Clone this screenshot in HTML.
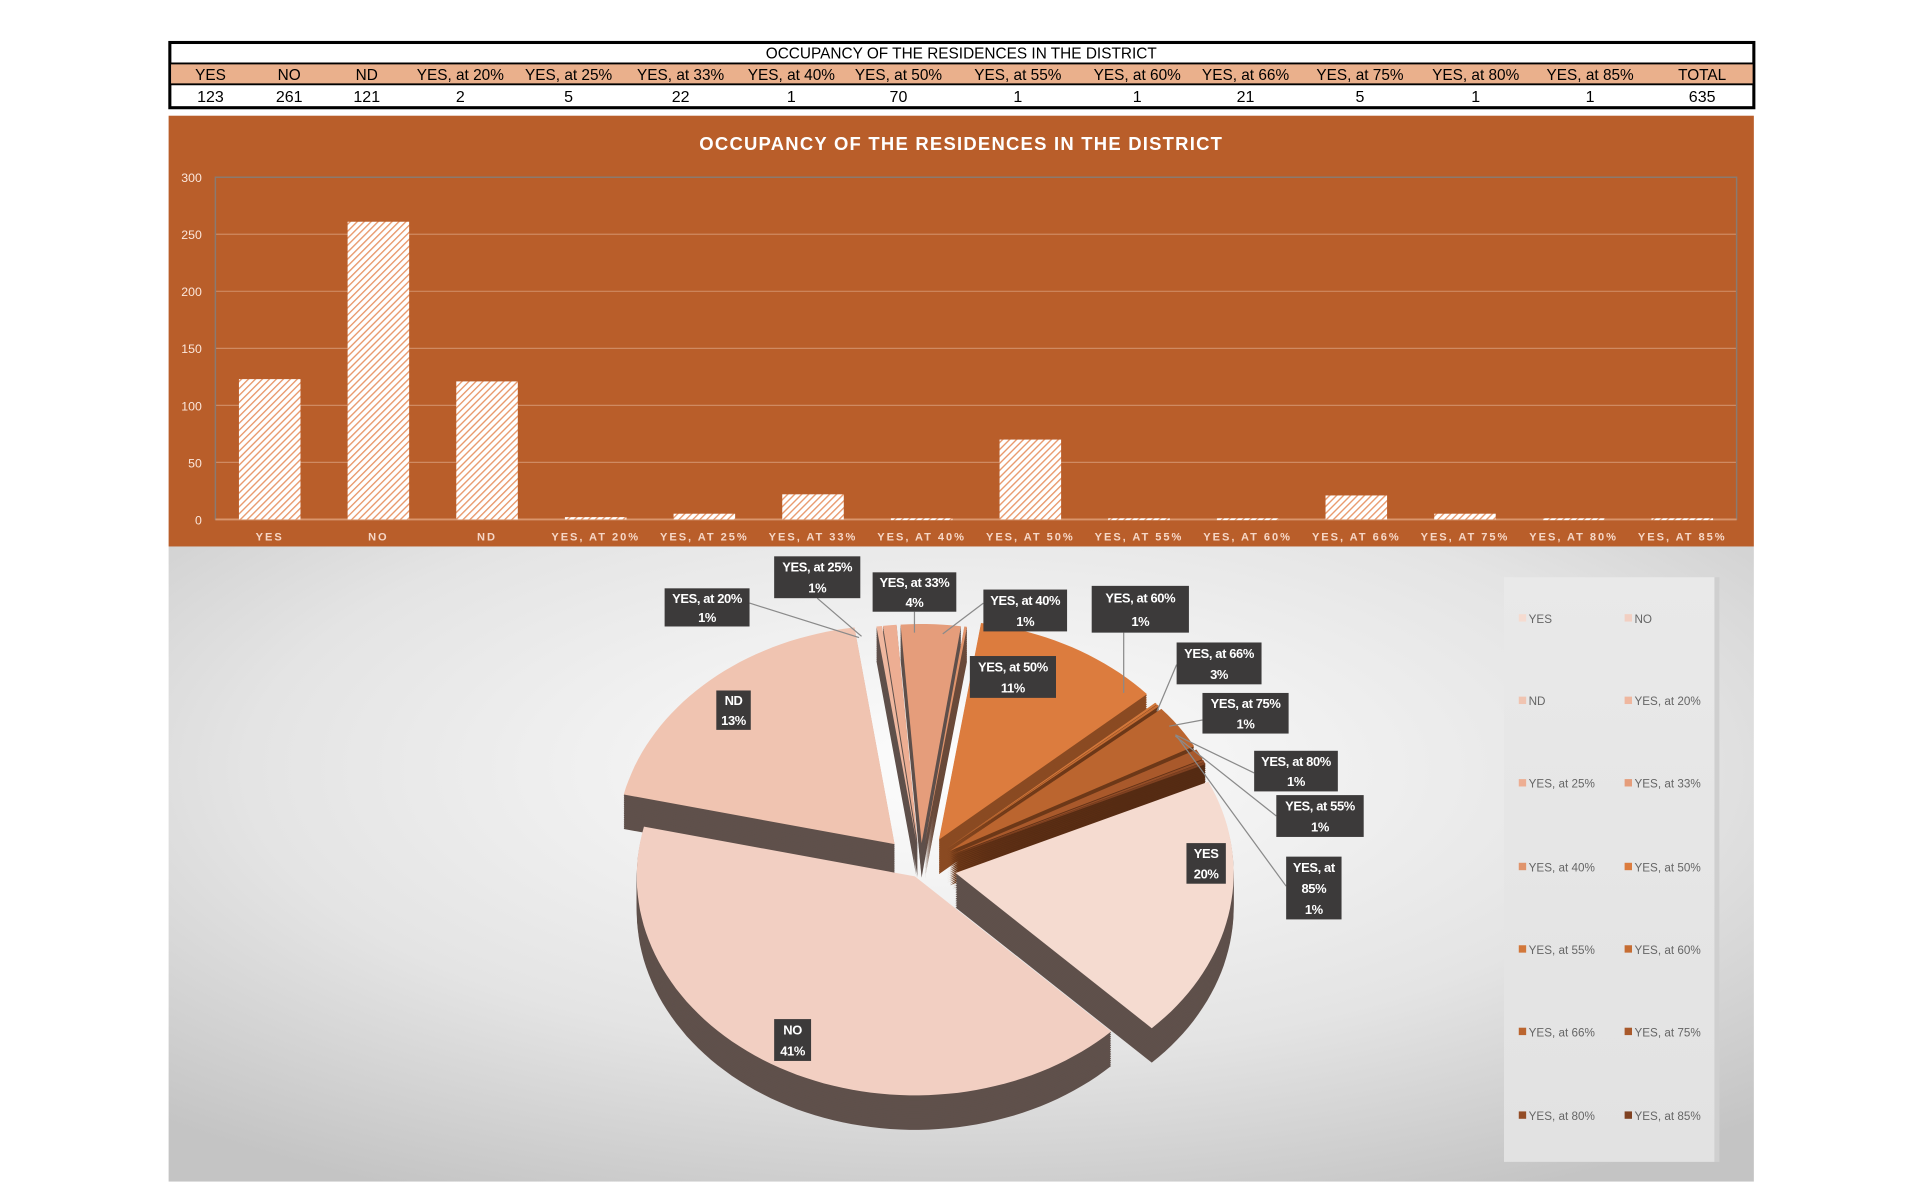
<!DOCTYPE html>
<html><head><meta charset="utf-8"><style>
html,body{margin:0;padding:0;background:#fff;width:1920px;height:1203px;overflow:hidden}
svg{display:block}
text{font-family:"Liberation Sans",sans-serif}
</style></head><body>
<svg id="s" width="1920" height="1203" viewBox="0 0 1560 977.4" xmlns="http://www.w3.org/2000/svg">
<defs>
<pattern id="h" width="4" height="4" patternUnits="userSpaceOnUse" patternTransform="rotate(45)">
<rect width="4" height="4" fill="#fff"/><rect width="1.1" height="4" fill="#e8976a"/></pattern>
<radialGradient id="bg" cx="0.5" cy="0.35" r="0.75"><stop offset="0" stop-color="#fdfdfd"/><stop offset="0.6" stop-color="#e4e4e4"/><stop offset="1" stop-color="#c4c4c4"/></radialGradient>
<linearGradient id="lg" x1="0" y1="0" x2="0" y2="1"><stop offset="0" stop-color="#e9e9e9"/><stop offset="1" stop-color="#e2e2e2"/></linearGradient>
</defs>
<g id="root"></g>
</svg>
<script>
const NS="http://www.w3.org/2000/svg",root=document.getElementById('root');
function el(t,a,txt,p){const e=document.createElementNS(NS,t);for(const k in a)e.setAttribute(k,a[k]);if(txt!=null)e.textContent=txt;(p||root).appendChild(e);return e;}
// table
el('rect',{x:138,y:34.5,width:1287,height:53,fill:'#fff',stroke:'#000','stroke-width':2.5});
el('rect',{x:139,y:51.5,width:1285,height:17,fill:'#eab08c'});
el('line',{x1:138,y1:51.5,x2:1425,y2:51.5,stroke:'#000','stroke-width':1.5});
el('line',{x1:138,y1:68.5,x2:1425,y2:68.5,stroke:'#000','stroke-width':1.5});
el('text',{x:781,y:47.5,'font-size':12.5,'text-anchor':'middle',fill:'#000'},'OCCUPANCY OF THE RESIDENCES IN THE DISTRICT');
const hdr=['YES','NO','ND','YES, at 20%','YES, at 25%','YES, at 33%','YES, at 40%','YES, at 50%','YES, at  55%','YES, at 60%','YES, at 66%','YES, at 75%','YES, at 80%','YES, at 85%','TOTAL'];
const hx=[171,235,298,374,462,553,643,730,827,924,1012,1105,1199,1292,1383];
const vals=[123,261,121,2,5,22,1,70,1,1,21,5,1,1,635];
hdr.forEach((h,i)=>{el('text',{x:hx[i],y:65,'font-size':12.5,'text-anchor':'middle',fill:'#000'},h);el('text',{x:hx[i],y:83,'font-size':13,'text-anchor':'middle',fill:'#000'},vals[i]);});
// bar panel
el('rect',{x:137,y:94,width:1288,height:350,fill:'#b95e2a'});
el('text',{x:781,y:122,'font-size':15,'font-weight':'bold','text-anchor':'middle',fill:'#fff','letter-spacing':'1'},'OCCUPANCY OF THE RESIDENCES IN THE DISTRICT');
const x0=175,x1=1411,yb=422,yt=144;
for(let v=0;v<=300;v+=50){const y=yb-(yb-yt)*v/300;
 if(v>0&&v<300)el('line',{x1:x0,y1:y,x2:x1,y2:y,stroke:'#cf8a62','stroke-width':1});
 el('text',{x:164,y:y+4,'font-size':10,'text-anchor':'end',fill:'#fbe7dc'},v);}
el('rect',{x:x0,y:yt,width:x1-x0,height:yb-yt,fill:'none',stroke:'#8a7a70','stroke-width':1.2});
el('line',{x1:x0,y1:yb,x2:x1,y2:yb,stroke:'#d9956c','stroke-width':1.5});
const cats=['YES','NO','ND','YES, AT 20%','YES, AT 25%','YES, AT 33%','YES, AT 40%','YES, AT 50%','YES, AT 55%','YES, AT 60%','YES, AT 66%','YES, AT 75%','YES, AT 80%','YES, AT 85%'];
const bv=[123,261,121,2,5,22,1,70,1,1,21,5,1,1];
const w=(x1-x0)/14;
cats.forEach((c,i)=>{const cx=x0+w*(i+0.5),h=(yb-yt)*bv[i]/300;
 el('rect',{x:cx-25,y:yb-h,width:50,height:Math.max(h,1.5),fill:'url(#h)'});
 el('text',{x:cx,y:439,'font-size':9,'font-weight':'bold','text-anchor':'middle',fill:'#f6d7c6','letter-spacing':'1.6'},c);});
// pie panel
el('rect',{x:137,y:444,width:1288,height:516,fill:'url(#bg)'});
el('rect',{x:1222,y:469,width:171,height:475,fill:'url(#lg)'});
el('rect',{x:1393,y:469,width:4,height:475,fill:'#cfcfcf'});
const pv=[123,261,121,2,5,22,1,70,1,1,21,5,1,1],tot=635;
const cols=['#f5dbd0','#f2cfc2','#f0c4b1','#efb79f','#edae93','#e59d7b','#e0946c','#dc7c3e','#d2773a','#c66d33','#bb652f','#a9592b','#944d27','#7f4121'];
const side=['#5f504b','#5f504b','#5f504b','#5f504b','#5f504b','#5f504b','#6a4a3a','#8a4a22','#6d3818','#6d3818','#6d3818','#623116','#5a2e14','#552b13'];
const names=['YES','NO','ND','YES, at 20%','YES, at 25%','YES, at 33%','YES, at 40%','YES, at 50%','YES, at  55%','YES, at 60%','YES, at 66%','YES, at 75%','YES, at 80%','YES, at 85%'];
const cx=748,cy=705,rx=226,ry=178,D=28;
let a=65.4,sl=[];
const explode=[24,8,26,20,20,20,20,26,24,24,24,24,24,24];
pv.forEach((v,i)=>{const s=v/tot*360;sl.push({i,a0:a,a1:a+s});a+=s;});
function P(t,r,ox,oy){t=t*Math.PI/180;return [ox+rx*r*Math.sin(t),oy-ry*r*Math.cos(t)];}
sl.forEach(s=>{const m=(s.a0+s.a1)/2,mr=m*Math.PI/180;s.ox=cx+explode[s.i]*Math.sin(mr)*1.2;s.oy=cy-explode[s.i]*Math.cos(mr);});
function path(s,dy){let d=`M${s.ox},${s.oy+dy}`;const n=Math.max(2,Math.ceil((s.a1-s.a0)/2));for(let k=0;k<=n;k++){const t=s.a0+(s.a1-s.a0)*k/n;const p=P(t,1,s.ox,s.oy+dy);d+=`L${p[0].toFixed(1)},${p[1].toFixed(1)}`;}return d+'Z';}
const order=sl.slice().sort((p,q)=>p.oy-q.oy);
const pg=el('g',{});
order.forEach(s=>{for(let dy=D;dy>0;dy-=1.5)el('path',{d:path(s,dy),fill:side[s.i]},null,pg);});
order.forEach(s=>{el('path',{d:path(s,0),fill:cols[s.i]},null,pg);});
// labels
const L=[['YES, at 25%','1%',629,452,70,34],['YES, at 20%','1%',540,478,69,31],['YES, at 33%','4%',709,465,68,32],['YES, at 40%','1%',799,479,68,34],['YES, at 60%','1%',887,476,79,38],['YES, at 50%','11%',788,533,70,34],['YES, at 66%','3%',956,522,69,34],['YES, at 75%','1%',977,563,70,33],['YES, at 80%','1%',1019,610,68,33],['YES, at  55%','1%',1037,646,71,34],['YES, at|85%','1%',1045,696,45,51],['YES','20%',964,685,32,33],['ND','13%',582,561,28,32],['NO','41%',629,828,30,34]];
const lines=[[664,486,700,517],[609,490,698,518],[743,497,743,514],[799,490,766,515],[913,514,913,563],[956,540,940,578],[977,585,950,590],[1019,628,955,597],[1037,663,955,598],[1045,720,956,598]];
lines.forEach(l=>el('polyline',{points:`${l[0]},${l[1]} ${l[2]},${l[3]}`,stroke:'#8a8a8a','stroke-width':1,fill:'none'}));
L.forEach(l=>{el('rect',{x:l[2],y:l[3],width:l[4],height:l[5],fill:'#3c3a3a'});
 const parts=l[0].split('|').concat([l[1]]);const lh=l[5]/parts.length;
 parts.forEach((t,k)=>el('text',{x:l[2]+l[4]/2,y:l[3]+lh*(k+0.5)+4,'font-size':10.5,'font-weight':'bold','text-anchor':'middle',fill:'#fff','letter-spacing':'-0.3'},t));});
// legend
const ly=[503,570,637,705,772,839,907];
names.forEach((n,i)=>{const r=Math.floor(i/2),c=i%2;const x=c?1320:1234,y=ly[r];
 el('rect',{x:x,y:y-4,width:6,height:6,fill:cols[i]});
 el('text',{x:x+8,y:y+3,'font-size':9.5,fill:'#666'},n);});
</script>
</body></html>
